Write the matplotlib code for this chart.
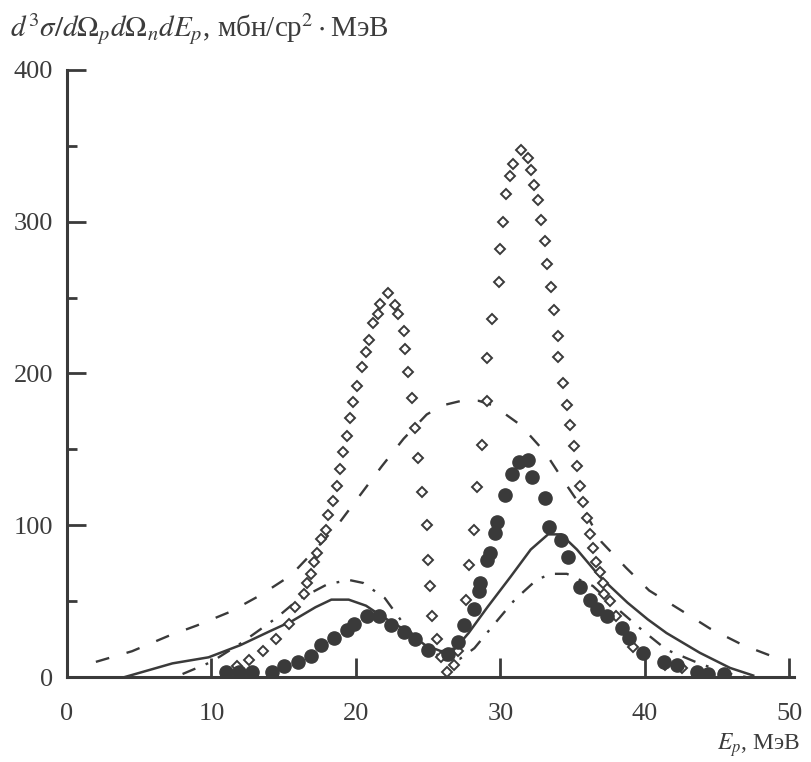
import matplotlib
matplotlib.use("Agg")
import matplotlib.pyplot as plt

# --- data ---
dash_x = [2, 4.5, 7, 9, 11.3, 13.4, 15.5, 17.2, 18.8, 20.3, 21.8, 23.3, 24.9, 26.0, 27.3,
          28.5, 29.5, 31.4, 33.1, 34.4, 35.9, 37.0, 38.7, 40.3, 42.5, 44.5, 46.8, 49.0]
dash_y = [10, 17, 27, 34, 43, 54, 67, 84, 101, 120, 139, 157, 173, 179, 182,
          182, 179, 166, 148, 129, 108, 89, 72, 57, 44, 32, 21, 13]

solid_x = [4, 7.3, 9.8, 12, 14, 15.6, 17.2, 18.3, 19.5, 20.7, 21.8, 23.4, 24.8, 25.9, 26.9,
           27.8, 29.1, 30.7, 32.1, 33.3, 34.2, 35.3, 36.9, 38.8, 40.2, 41.5, 43.8, 45.9, 47.5]
solid_y = [0, 9, 13, 21, 30, 37, 46, 51, 51, 47, 40, 31, 21, 17, 19,
           29, 46, 66, 84, 94, 94, 84, 66, 49, 38, 29, 16, 6, 1]

dashdot_x = [8, 10, 12, 14.5, 16, 18, 19.5, 20.5, 22, 23.3, 24.5, 26.2, 27.2, 28.2, 29.5,
             31, 32.5, 33.5, 34.6, 36.4, 38.1, 39.8, 41.5, 43.5, 45.5, 47]
dashdot_y = [2, 10, 22, 39, 51, 61, 64, 62, 52, 35, 22, 11, 12, 19, 34,
             51, 64, 68, 68, 60, 45, 31, 18, 10, 3, 0]

diam_x = [11.8, 12.6, 13.6, 14.5, 15.4, 15.8, 16.4, 16.6, 16.9, 17.1, 17.3, 17.6, 17.9, 18.1,
          18.4, 18.7, 18.9, 19.1, 19.4, 19.6, 19.8, 20.1, 20.4, 20.7, 20.9, 21.2, 21.5, 21.7,
          22.2, 22.7, 22.9, 23.3, 23.4, 23.6, 23.9, 24.1, 24.3, 24.6, 24.9, 25.0, 25.1, 25.3,
          25.6, 25.9, 26.3, 26.8, 27.1, 27.6, 27.8, 28.2, 28.4, 28.7, 29.1, 29.1, 29.4, 29.9,
          30.0, 30.2, 30.4, 30.7, 30.9, 31.4, 31.9, 32.1, 32.3, 32.6, 32.8, 33.1, 33.2, 33.5,
          33.7, 34.0, 34.0, 34.3, 34.6, 34.8, 35.1, 35.3, 35.5, 35.7, 36.0, 36.2, 36.4, 36.6,
          36.9, 37.1, 37.2, 37.6, 38.0, 39.2, 41.4, 42.6, 44.1]
diam_y = [7, 11, 17, 25, 35, 46, 55, 62, 68, 76, 82, 91, 97, 107,
          116, 126, 137, 148, 159, 171, 181, 192, 204, 214, 222, 233, 239, 246,
          253, 245, 239, 228, 216, 201, 184, 164, 144, 122, 100, 77, 60, 40,
          25, 13, 3, 8, 17, 51, 74, 97, 125, 153, 182, 210, 236, 260,
          282, 300, 318, 330, 338, 347, 342, 334, 324, 314, 301, 287, 272, 257,
          242, 225, 211, 194, 179, 166, 152, 139, 126, 115, 105, 94, 85, 76,
          69, 62, 55, 50, 40, 20, 8, 6, 1]

circ_x = [11.0, 11.9, 12.8, 14.2, 15.0, 16.0, 16.9, 17.6, 18.5, 19.4, 19.9, 20.8, 21.6, 22.4,
          23.3, 24.1, 25.0, 26.4, 27.1, 27.5, 28.2, 28.5, 28.6, 29.1, 29.3, 29.6, 29.8, 30.3,
          30.8, 31.3, 31.9, 32.2, 33.1, 33.4, 34.2, 34.7, 35.5, 36.2, 36.7, 37.4, 38.4, 38.9,
          39.9, 41.3, 42.2, 43.6, 44.4, 45.5]
circ_y = [3, 3, 3, 3, 7, 10, 14, 21, 26, 31, 35, 40, 40, 34,
          30, 25, 18, 15, 23, 34, 45, 57, 62, 77, 82, 95, 102, 120,
          134, 142, 143, 132, 118, 99, 90, 79, 59, 51, 45, 40, 32, 26,
          16, 10, 8, 3, 2, 2]

INK = "#3a3a3a"
TXT = "#3c3c3c"

plt.rcParams["font.family"] = ["Liberation Serif", "DejaVu Serif"]
plt.rcParams["mathtext.fontset"] = "stix"
plt.rcParams["lines.scale_dashes"] = False

fig = plt.figure(figsize=(8.11, 7.62), dpi=100)
ax = fig.add_axes([0.0826, 0.1115, 0.8960, 0.7967])

ax.plot(dash_x, dash_y, color=INK, lw=1.7, dashes=(10, 13))
ax.plot(solid_x, solid_y, color=INK, lw=1.8)
ax.plot(dashdot_x, dashdot_y, color=INK, lw=1.7, dashes=(10, 8, 2, 8))
ax.plot(diam_x, diam_y, ls="none", marker="D", ms=4.8, mfc="white",
        mec=INK, mew=1.4)
ax.plot(circ_x, circ_y, ls="none", marker="o", ms=9.5, mfc=INK, mec=INK)

ax.set_xlim(0, 50.3)
ax.set_ylim(0, 400)
ax.set_xticks([0, 10, 20, 30, 40, 50])
ax.set_yticks([0, 100, 200, 300, 400])
ax.set_yticks([50, 150, 250, 350], minor=True)

for side in ("top", "right"):
    ax.spines[side].set_visible(False)
for side in ("left", "bottom"):
    ax.spines[side].set_linewidth(2.2)
    ax.spines[side].set_color(INK)

ax.tick_params(axis="both", which="major", direction="in", length=14,
               width=2.0, color=INK, labelsize=19, labelcolor=TXT)
ax.tick_params(axis="y", which="minor", direction="in", length=7,
               width=2.0, color=INK)
ax.tick_params(axis="y", which="major", pad=10)
ax.tick_params(axis="x", which="major", pad=19)

fig.text(0.012, 0.962, r"$d^3\sigma/d\Omega_p d\Omega_n dE_p$, мбн/ср$^2\cdot$МэВ",
         fontsize=21, color=TXT, ha="left", va="center")
fig.text(0.987, 0.022, r"$E_p$, МэВ", fontsize=17, color=TXT,
         ha="right", va="center")

fig.savefig("out.png", dpi=100, facecolor="white")
